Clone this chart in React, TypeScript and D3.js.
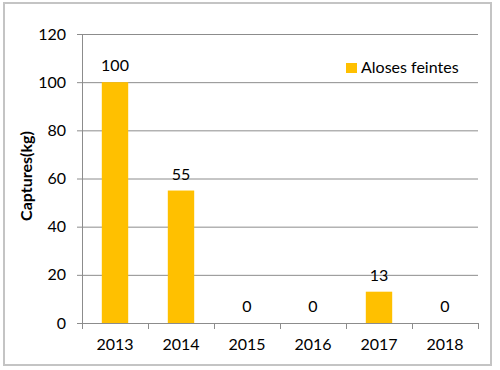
import { useEffect, useRef } from 'react';
import * as d3 from 'd3';

const years = ['2013', '2014', '2015', '2016', '2017', '2018'];
const captures = [100, 55, 0, 0, 13, 0];
const yTicks = [0, 20, 40, 60, 80, 100, 120];
const seriesName = 'Aloses feintes';

const App = () => {
  const ref = useRef<SVGSVGElement>(null);

  useEffect(() => {
    const width = 500;
    const height = 370;
    const margin = { top: 34, right: 22, bottom: 47, left: 82 };
    const innerWidth = width - margin.left - margin.right;
    const innerHeight = height - margin.top - margin.bottom;
    const font = 'Lato, sans-serif';

    const svg = d3.select(ref.current);
    svg.selectAll('*').remove();

    svg.append('rect')
      .attr('x', 4).attr('y', 3)
      .attr('width', 487).attr('height', 362)
      .attr('fill', 'white')
      .attr('stroke', '#c4c4c4')
      .attr('stroke-width', 2);

    const g = svg.append('g').attr('transform', `translate(${margin.left}, ${margin.top})`);

    const x = d3.scaleBand().domain(years).range([0, innerWidth]).paddingInner(0.6).paddingOuter(0.3);
    const xTickScale = d3.scaleBand().domain(years).range([0, innerWidth]);
    const y = d3.scaleLinear().domain([0, 120]).range([innerHeight, 0]);

    // gridlines
    g.selectAll('.grid')
      .data(yTicks.filter((d) => d > 0))
      .join('line')
      .attr('x1', 0).attr('x2', innerWidth)
      .attr('y1', (d) => y(d) + 0.5).attr('y2', (d) => y(d) + 0.5)
      .attr('stroke', '#8c8c8c');

    // bars
    g.selectAll('.bar')
      .data(years)
      .join('rect')
      .attr('x', (d) => x(d)!)
      .attr('width', x.bandwidth())
      .attr('y', (d, i) => y(captures[i]))
      .attr('height', (d, i) => innerHeight - y(captures[i]))
      .attr('fill', '#ffc000');

    // data labels
    g.selectAll('.lbl')
      .data(years)
      .join('text')
      .attr('x', (d) => x(d)! + x.bandwidth() / 2)
      .attr('y', (d, i) => y(captures[i]) - 11)
      .attr('text-anchor', 'middle')
      .style('font-family', font)
      .style('font-size', '16px')
      .text((d, i) => captures[i]);

    // x axis
    const xAxis = g.append('g').attr('transform', `translate(0, ${innerHeight})`);
    xAxis.append('line')
      .attr('x1', 0).attr('x2', innerWidth)
      .attr('y1', 0.5).attr('y2', 0.5)
      .attr('stroke', '#8c8c8c');
    const xEdges = years.map((d) => xTickScale(d)!).concat([innerWidth]);
    xAxis.selectAll('.xt')
      .data(xEdges)
      .join('line')
      .attr('x1', (d) => Math.round(d) + 0.5).attr('x2', (d) => Math.round(d) + 0.5)
      .attr('y1', 0).attr('y2', 6)
      .attr('stroke', '#8c8c8c');
    xAxis.selectAll('.xl')
      .data(years)
      .join('text')
      .attr('x', (d) => xTickScale(d)! + xTickScale.bandwidth() / 2)
      .attr('y', 27)
      .attr('text-anchor', 'middle')
      .style('font-family', font)
      .style('font-size', '16px')
      .text((d) => d);

    // y axis
    const yAxis = g.append('g');
    yAxis.append('line')
      .attr('x1', 0.5).attr('x2', 0.5)
      .attr('y1', 0).attr('y2', innerHeight)
      .attr('stroke', '#8c8c8c');
    yAxis.selectAll('.yt')
      .data(yTicks)
      .join('line')
      .attr('x1', -5).attr('x2', 0)
      .attr('y1', (d) => y(d) + 0.5).attr('y2', (d) => y(d) + 0.5)
      .attr('stroke', '#8c8c8c');
    yAxis.selectAll('.yl')
      .data(yTicks)
      .join('text')
      .attr('x', -16)
      .attr('y', (d) => y(d) + 5.5)
      .attr('text-anchor', 'end')
      .style('font-family', font)
      .style('font-size', '16px')
      .text((d) => d);

    // y title
    svg.append('text')
      .attr('transform', `translate(32, 176) rotate(-90)`)
      .attr('text-anchor', 'middle')
      .style('font-family', font)
      .style('font-size', '16px')
      .style('font-weight', 'bold')
      .text('Captures(kg)');

    // legend
    const legend = svg.append('g').attr('transform', 'translate(346, 63)');
    legend.append('rect').attr('width', 11).attr('height', 10).attr('fill', '#ffc000');
    legend.append('text')
      .attr('x', 15).attr('y', 10)
      .style('font-family', font)
      .style('font-size', '16px')
      .text(seriesName);
  }, []);

  return (
    <svg ref={ref} width={500} height={370} style={{ position: 'absolute', top: 0, left: 0, background: 'white' }} />
  );
};

export default App;
